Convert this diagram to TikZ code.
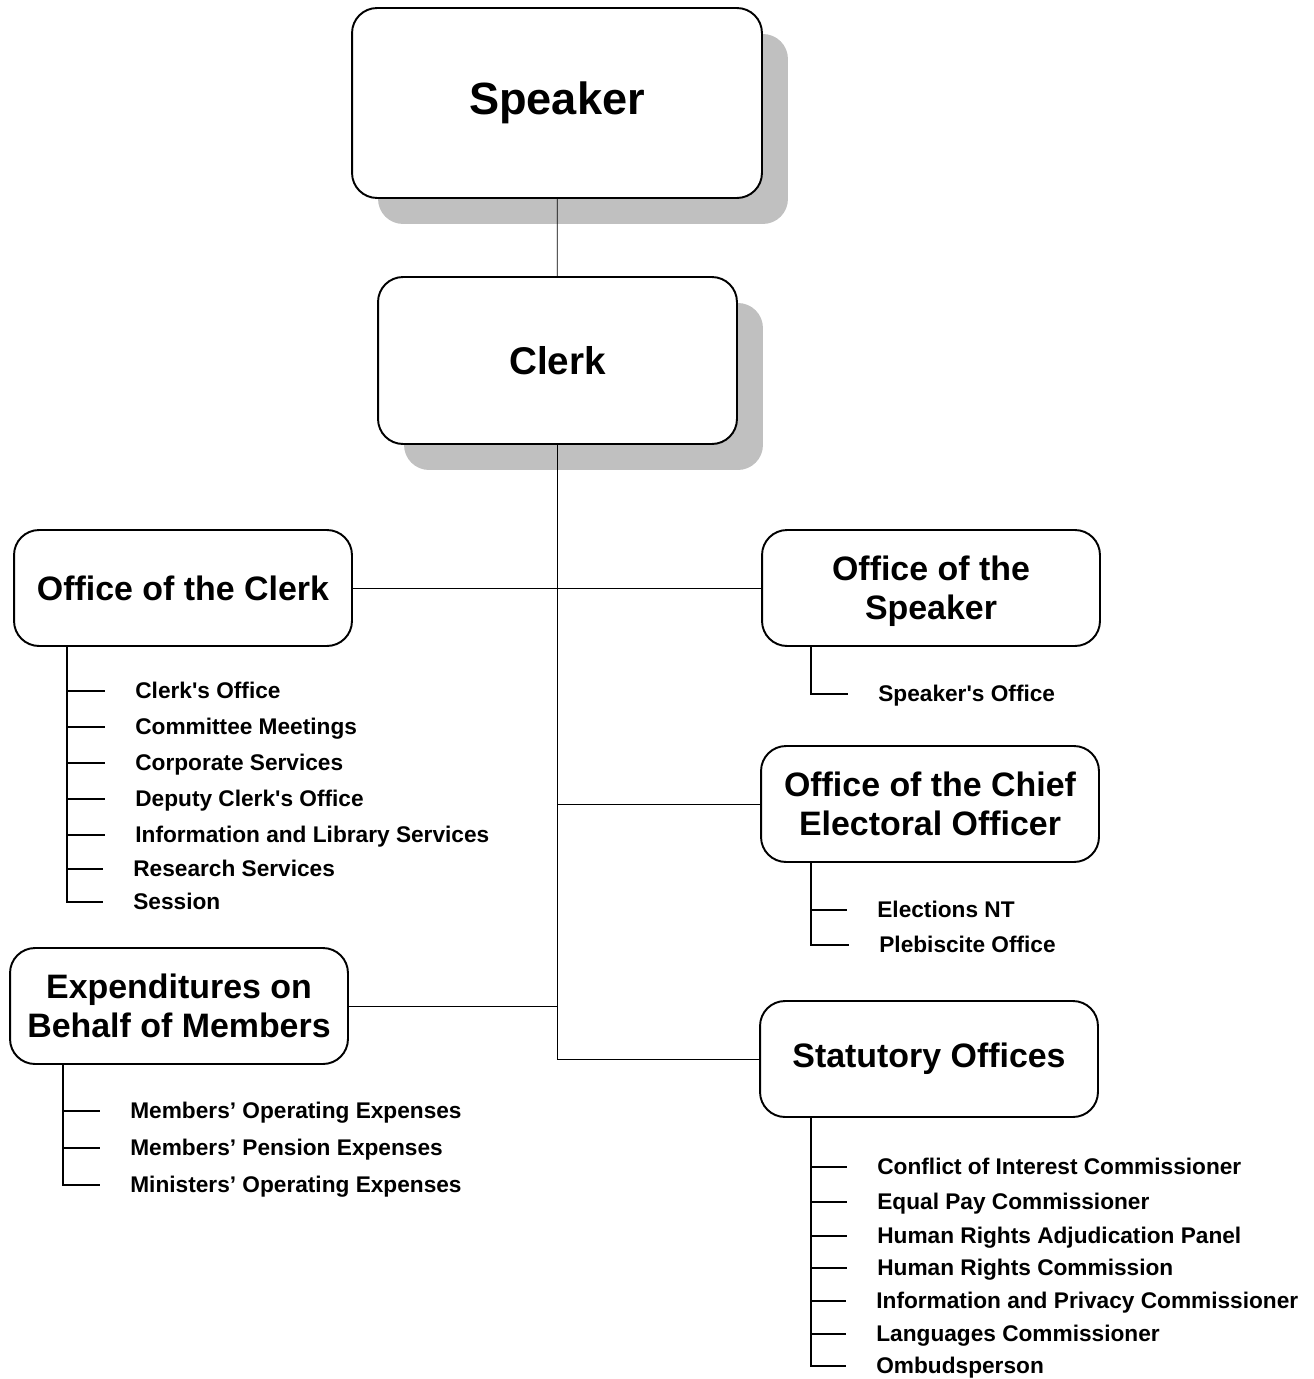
\documentclass[tikz,border=0pt]{standalone}
\usepackage{fontspec}
\newfontfamily\orgfont{Liberation Sans}
\usepackage{tikz}
\usetikzlibrary{shadows}
\definecolor{shadowgray}{RGB}{192,192,192}

\begin{document}
\begin{tikzpicture}[x=0.02cm, y=-0.02cm,
  unit/.style={rectangle, rounded corners=0.5cm, draw=black, line width=1.1pt, fill=white, align=center, inner sep=0pt, minimum width=6.76cm, minimum height=2.32cm, font=\orgfont\bfseries\fontsize{19.3}{22}\selectfont},
  topunit/.style={unit, drop shadow={shadow xshift=0.52cm, shadow yshift=-0.52cm, fill=shadowgray, opacity=1}},
  item/.style={anchor=west, inner sep=0pt, text height=0.8em, text depth=0pt, font=\orgfont\bfseries\fontsize{12.9}{15}\selectfont},
  leg/.style={line width=0.8pt, shorten >=0.6cm}]

\useasboundingbox (0,0) rectangle (1314,1379);

\node[topunit, minimum width=8.2cm, minimum height=3.8cm, font=\orgfont\bfseries\fontsize{25.7}{30}\selectfont] (speaker) at (557,103) {Speaker};
\node[topunit, minimum width=7.18cm, minimum height=3.34cm, font=\orgfont\bfseries\fontsize{22}{26}\selectfont] (clerk) at (557.5,360.5) {Clerk};

\node[unit] (ofclerk) at (183,588) {Office of the Clerk};
\node[unit, text depth=0pt] (ofspeaker) at (931,588) {Office of the\\Speaker};
\node[unit] (ofceo) at (930,804) {Office of the Chief\\Electoral Officer};
\node[unit] (expend) at (179,1006) {Expenditures on\\Behalf of Members};
\node[unit] (statutory) at (929,1059) {Statutory Offices};

\draw (speaker) -- (clerk);
\draw (clerk) |- (statutory);
\draw (ofclerk) -- (ofspeaker);
\draw (ofceo) -- (ofceo -| clerk);
\draw (expend) -- (expend -| clerk);

\coordinate (ocbar) at (67,0);
\node[item] (oc1) at (135,691) {Clerk's Office};
\node[item] (oc2) at (135,727) {Committee Meetings};
\node[item] (oc3) at (135,763) {Corporate Services};
\node[item] (oc4) at (135,799) {Deputy Clerk's Office};
\node[item] (oc5) at (135,835) {Information and Library Services};
\node[item] (oc6) at (133,869) {Research Services};
\node[item] (oc7) at (133,902) {Session};
\draw[leg] (ofclerk.south -| ocbar) |- (oc7);
\foreach \n in {1,...,6}
  \draw[leg] (oc\n -| ocbar) -- (oc\n);

\coordinate (osbar) at (811,0);
\node[item] (os1) at (878,694) {Speaker's Office};
\draw[leg] (ofspeaker.south -| osbar) |- (os1);

\coordinate (cebar) at (811,0);
\node[item] (ce1) at (877,910) {Elections NT};
\node[item] (ce2) at (879,945) {Plebiscite Office};
\draw[leg] (ofceo.south -| cebar) |- (ce2);
\draw[leg] (ce1 -| cebar) -- (ce1);

\coordinate (exbar) at (63,0);
\node[item] (ex1) at (130,1111) {Members’ Operating Expenses};
\node[item] (ex2) at (130,1148) {Members’ Pension Expenses};
\node[item] (ex3) at (130,1185) {Ministers’ Operating Expenses};
\draw[leg] (expend.south -| exbar) |- (ex3);
\draw[leg] (ex1 -| exbar) -- (ex1);
\draw[leg] (ex2 -| exbar) -- (ex2);

\coordinate (stbar) at (811,0);
\node[item] (st1) at (877,1167) {Conflict of Interest Commissioner};
\node[item] (st2) at (877,1202) {Equal Pay Commissioner};
\node[item] (st3) at (877,1236) {Human Rights Adjudication Panel};
\node[item] (st4) at (877,1268) {Human Rights Commission};
\node[item] (st5) at (876,1301) {Information and Privacy Commissioner};
\node[item] (st6) at (876,1334) {Languages Commissioner};
\node[item] (st7) at (876,1366) {Ombudsperson};
\draw[leg] (statutory.south -| stbar) |- (st7);
\foreach \n in {1,...,6}
  \draw[leg] (st\n -| stbar) -- (st\n);

\end{tikzpicture}
\end{document}
